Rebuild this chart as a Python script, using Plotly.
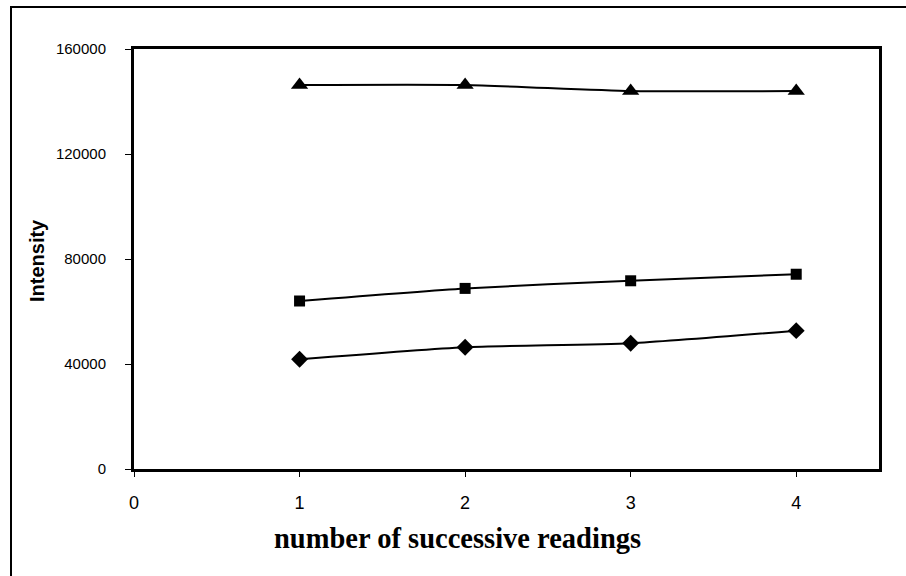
import plotly.graph_objects as go

readings = [1, 2, 3, 4]
series_diamond = [41800, 46400, 47900, 52700]
series_square = [64000, 68800, 71700, 74200]
series_triangle = [146300, 146300, 144000, 144000]
y_ticks = [0, 40000, 80000, 120000, 160000]
x_ticks = [0, 1, 2, 3, 4]

fig = go.Figure()

for vals, sym, size in [
    (series_diamond, "diamond", 13),
    (series_square, "square", 11),
    (series_triangle, "triangle-up", 15),
]:
    fig.add_trace(go.Scatter(
        x=readings, y=vals, mode="lines+markers",
        line=dict(color="black", width=2, shape="spline", smoothing=0.6),
        marker=dict(symbol=sym, size=size, color="black"),
        showlegend=False, cliponaxis=False,
    ))

fig.update_xaxes(
    range=[0, 4.5], tickvals=x_ticks, ticktext=[str(v) for v in x_ticks],
    showline=True, linecolor="black", linewidth=3, mirror=True,
    ticks="outside", ticklen=5, tickwidth=1, tickcolor="black",
    showgrid=False, zeroline=False,
    tickfont=dict(family="Arial, Liberation Sans", size=18, color="black"),
    ticklabelstandoff=10,
)
fig.update_yaxes(
    range=[0, 160000], tickvals=y_ticks, ticktext=[str(v) for v in y_ticks],
    showline=True, linecolor="black", linewidth=3, mirror=True,
    ticks="outside", ticklen=6, tickwidth=1, tickcolor="black",
    showgrid=False, zeroline=False,
    tickfont=dict(family="Arial, Liberation Sans", size=15, color="black"),
    ticklabelstandoff=16,
)

# outer frame of the figure
fig.add_shape(type="rect", xref="paper", yref="paper",
              x0=(11 - 134) / 745, x1=(915 - 134) / 745,
              y0=(469 - 585) / 420, y1=(469 - 7) / 420,
              line=dict(color="black", width=2))

fig.add_annotation(
    text="<b>number of successive readings</b>", xref="paper", yref="paper",
    x=(457 - 134) / 745, y=(469 - 538) / 420, showarrow=False,
    xanchor="center", yanchor="middle",
    font=dict(family="Times New Roman, Liberation Serif", size=28.5, color="black"),
)
fig.add_annotation(
    text="<b>Intensity</b>", xref="paper", yref="paper", textangle=-90,
    x=(37 - 134) / 745, y=(469 - 261) / 420, showarrow=False,
    xanchor="center", yanchor="middle",
    font=dict(family="Arial, Liberation Sans", size=20, color="black"),
)

fig.update_layout(
    width=906, height=576,
    margin=dict(l=134, r=27, t=49, b=107),
    paper_bgcolor="white", plot_bgcolor="white",
)

fig.write_html("out.html")
